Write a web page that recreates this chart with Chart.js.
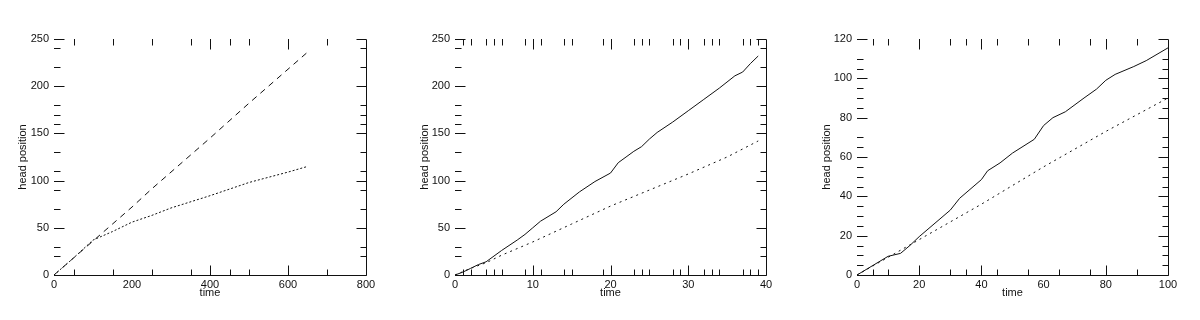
<!DOCTYPE html>
<html>
<head>
<meta charset="utf-8">
<script src="https://cdn.jsdelivr.net/npm/chart.js@4.4.1/dist/chart.umd.min.js"></script>
<style>
  html, body { margin: 0; padding: 0; background: #fff; }
  .panel { position: absolute; top: 0; width: 400px; height: 320px; }
</style>
</head>
<body>
<div class="panel" style="left:0px"><canvas id="c1" width="400" height="320"></canvas></div>
<div class="panel" style="left:400px"><canvas id="c2" width="400" height="320"></canvas></div>
<div class="panel" style="left:800px"><canvas id="c3" width="400" height="320"></canvas></div>
<script>
// panel 1
const p1Time = [0, 50, 100, 150, 200, 250, 300, 400, 500, 600, 650];
const p1Fast = [0, 18, 36, 54, 72, 91, 109, 145, 182, 218, 236];
const p1Slow = [0, 18, 37, 46, 56, 63, 71, 84, 98, 109, 115];
const p1XMajor = [400, 600];
const p1XMinor = [50, 150, 250, 350, 450, 500, 700];
const p1YMinor = [20, 30, 70, 90, 110, 130, 160, 170, 180, 220, 240];

// panel 2
const p2TimeA = [0, 1, 2, 3, 4, 6, 8, 9, 10, 11, 13, 14, 16, 18, 20, 21, 22, 23, 24, 25, 26, 28, 30, 32, 34, 36, 37, 38, 39];
const p2Upper = [0, 3, 7, 11, 14, 26, 37, 43, 50, 57, 67, 75, 88, 99, 108, 119, 125, 131, 136, 144, 151, 162, 174, 186, 198, 211, 215, 224, 232];
const p2TimeB = [0, 2, 4, 6, 10, 15, 20, 25, 30, 35, 39];
const p2Lower = [0, 7, 13, 21, 35, 54, 73, 90, 107, 125, 142];
const p2XMajor = [10, 20, 30];
const p2XMinor = [1, 2, 4, 5, 6, 9, 11, 14, 15, 19, 23, 24, 25, 28, 29, 32, 33, 34, 37, 38, 39];
const p2YMinor = [20, 30, 70, 90, 110, 130, 160, 170, 180, 220, 240];

// panel 3
const p3TimeA = [0, 10, 14, 17, 20, 30, 33, 40, 42, 46, 50, 57, 60, 63, 67, 73, 77, 80, 83, 89, 93, 100];
const p3Upper = [0, 9.5, 11, 15, 19.5, 33, 39, 48.5, 53, 57, 62, 69, 76, 80, 83, 90, 94.5, 99, 102, 106, 109, 115.5];
const p3TimeB = [0, 20, 40, 60, 80, 100];
const p3Lower = [0, 18, 36, 55, 73, 90];
const p3XMajor = [20, 40, 80];
const p3XMinor = [5, 10, 30, 35, 45, 55, 65, 75, 90];
const p3YMinor = [5, 10, 15, 25, 30, 35, 45, 50, 55, 65, 70, 85, 90, 95, 105, 110];

const tickFont = { family: "'Liberation Sans', Arial, sans-serif", size: 11 };
const ink = "#111";

function pts(xs, ys) {
  return xs.map((x, i) => ({ x: x, y: ys[i] }));
}

// draws the bottom/right axis lines and the inward tick marks
const frameTicks = {
  id: "frameTicks",
  afterDraw(chart, args, opts) {
    const { ctx, chartArea: a, scales } = chart;
    const xs = scales.x, ys = scales.y;
    const L = Math.round(a.left) + 0.5, R = Math.round(a.right) + 0.5;
    const T = Math.round(a.top) + 0.5, B = Math.round(a.bottom) + 0.5;
    ctx.save();
    ctx.strokeStyle = ink;
    ctx.lineWidth = 1;
    ctx.beginPath();
    ctx.moveTo(L - 0.5, B);
    ctx.lineTo(R, B);
    ctx.moveTo(R, B);
    ctx.lineTo(R, T);
    const xTick = (v, len) => {
      const px = Math.round(xs.getPixelForValue(v)) + 0.5;
      ctx.moveTo(px, B); ctx.lineTo(px, B - len);
      ctx.moveTo(px, T - 0.5); ctx.lineTo(px, T + len);
    };
    const yTick = (v, len) => {
      const py = Math.round(ys.getPixelForValue(v)) + 0.5;
      ctx.moveTo(L - 0.5, py); ctx.lineTo(L + len, py);
      ctx.moveTo(R, py); ctx.lineTo(R - len, py);
    };
    opts.xMajor.forEach(v => xTick(v, 10));
    opts.xMinor.forEach(v => xTick(v, 6));
    ys.ticks.forEach(t => yTick(t.value, 10));
    opts.yMinor.forEach(v => yTick(v, 6));
    ctx.stroke();
    ctx.restore();
  }
};

function makeChart(id, cfg) {
  const ds = cfg.series.map(s => ({
    data: s.data,
    borderColor: ink,
    borderWidth: 1,
    borderDash: s.dash,
    pointRadius: 0,
    tension: 0,
    fill: false
  }));
  return new Chart(document.getElementById(id), {
    type: "line",
    data: { datasets: ds },
    plugins: [frameTicks],
    options: {
      responsive: false,
      animation: false,
      layout: { padding: { top: 39, right: cfg.padRight, left: 0, bottom: 0 } },
      plugins: {
        legend: { display: false },
        tooltip: { enabled: false },
        frameTicks: { xMajor: cfg.xMajor, xMinor: cfg.xMinor, yMinor: cfg.yMinor }
      },
      scales: {
        x: {
          type: "linear",
          min: 0, max: cfg.xMax,
          grid: { display: false, drawTicks: false },
          border: { display: false },
          ticks: { stepSize: cfg.xStep, color: ink, font: tickFont, padding: 3, maxRotation: 0, autoSkip: false },
          title: { display: true, text: "time", color: ink, font: tickFont, padding: { top: 0, bottom: 20 } },
          afterFit(scale) { scale.height = 45; }
        },
        y: {
          min: 0, max: cfg.yMax,
          grid: { display: false, drawTicks: false },
          border: { display: false },
          ticks: { stepSize: cfg.yStep, color: ink, font: tickFont, padding: 5, autoSkip: false },
          title: { display: true, text: "head position", color: ink, font: tickFont, padding: { top: cfg.titleOff, bottom: 0 } },
          afterFit(scale) { scale.width = cfg.yWidth; }
        }
      }
    }
  });
}

makeChart("c1", {
  series: [
    { data: pts(p1Time, p1Fast), dash: [6, 5] },
    { data: pts(p1Time, p1Slow), dash: [2, 2] }
  ],
  xMax: 800, xStep: 200, yMax: 250, yStep: 50,
  xMajor: p1XMajor, xMinor: p1XMinor, yMinor: p1YMinor,
  yWidth: 54, padRight: 34, titleOff: 16
});

makeChart("c2", {
  series: [
    { data: pts(p2TimeA, p2Upper), dash: [] },
    { data: pts(p2TimeB, p2Lower), dash: [2, 4] }
  ],
  xMax: 40, xStep: 10, yMax: 250, yStep: 50,
  xMajor: p2XMajor, xMinor: p2XMinor, yMinor: p2YMinor,
  yWidth: 55, padRight: 34, titleOff: 18
});

makeChart("c3", {
  series: [
    { data: pts(p3TimeA, p3Upper), dash: [] },
    { data: pts(p3TimeB, p3Lower), dash: [2, 4] }
  ],
  xMax: 100, xStep: 20, yMax: 120, yStep: 20,
  xMajor: p3XMajor, xMinor: p3XMinor, yMinor: p3YMinor,
  yWidth: 57, padRight: 32, titleOff: 20
});
</script>
</body>
</html>
